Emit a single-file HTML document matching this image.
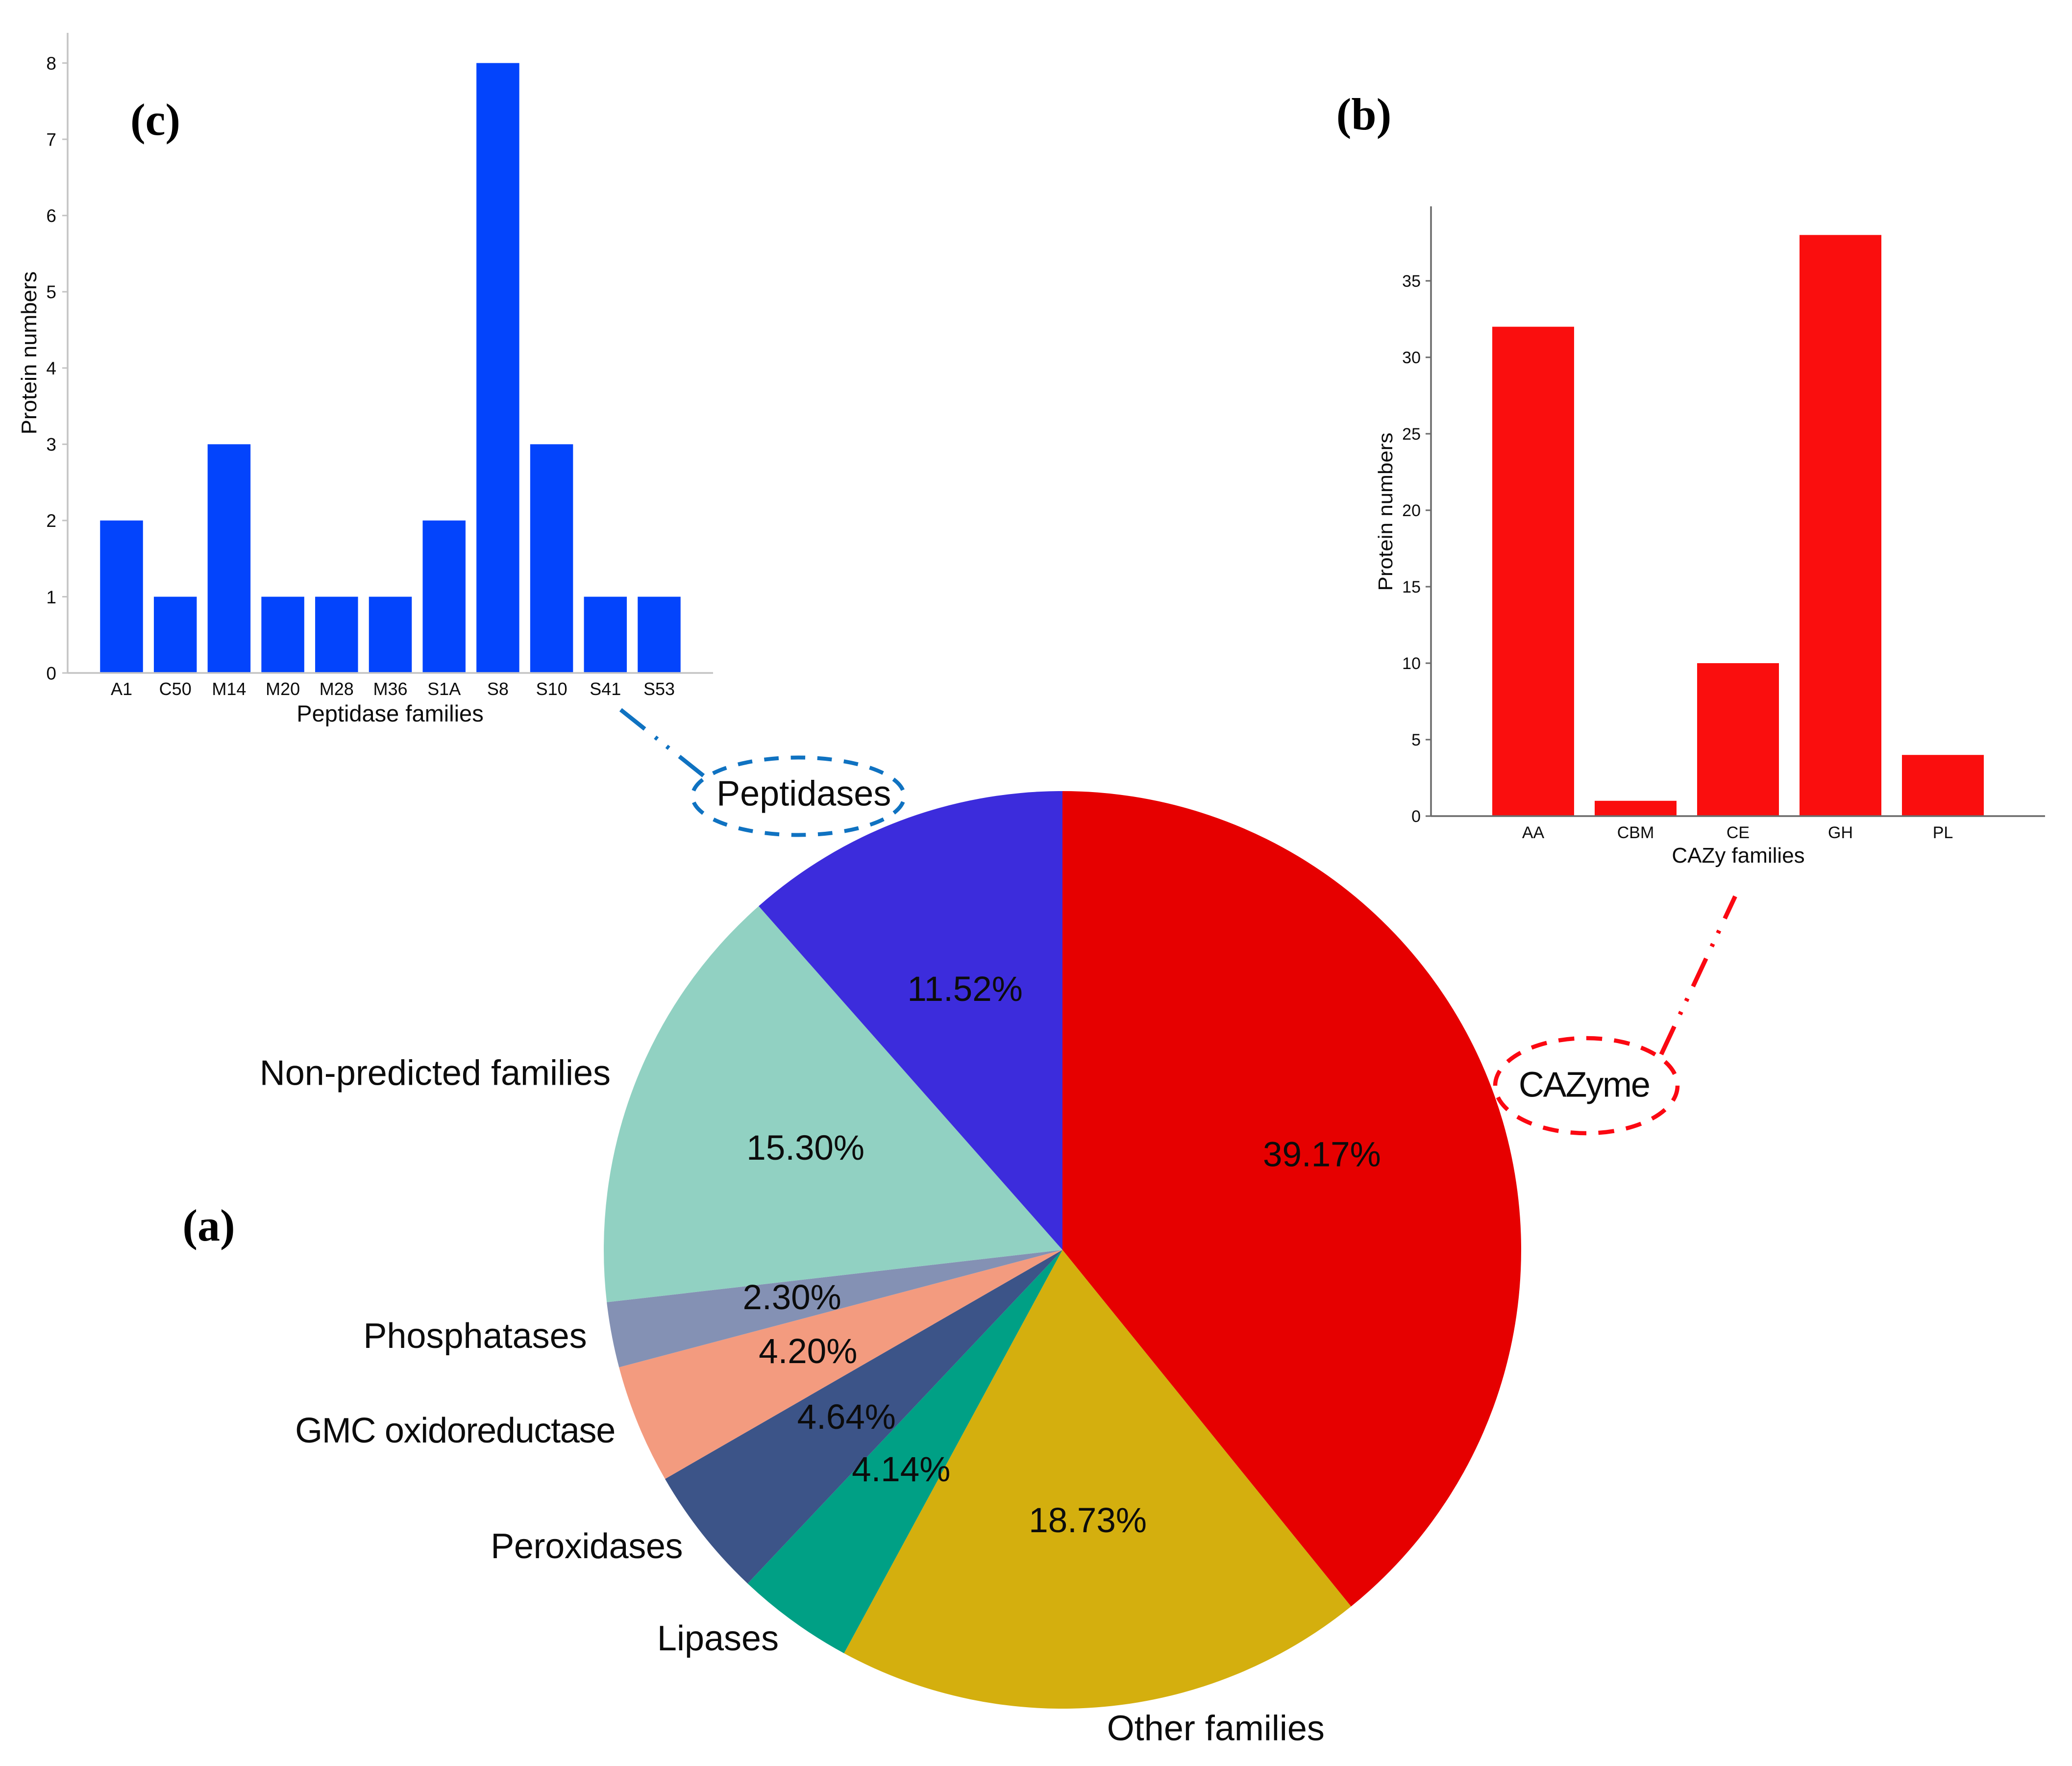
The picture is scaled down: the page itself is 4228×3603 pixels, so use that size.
<!DOCTYPE html>
<html lang="en">
<head>
<meta charset="utf-8">
<title>Protein family distribution</title>
<style>
html,body{margin:0;padding:0;background:#fff;width:4228px;height:3603px;overflow:hidden}
svg{display:block}
text{font-family:"Liberation Sans",sans-serif;fill:#0c0c0c}
.panel{font-family:"Liberation Serif",serif;font-weight:bold;fill:#000;font-size:92px}
</style>
</head>
<body>
<svg id="figure" width="4228" height="3603" viewBox="0 0 4228 3603" xmlns="http://www.w3.org/2000/svg">
  <rect x="0" y="0" width="4228" height="3603" fill="#ffffff"/>
  <g id="pie"></g>
  <g id="chartC"></g>
  <g id="chartB"></g>

  <text class="panel" x="426" y="2531" text-anchor="middle">(a)</text>
  <text class="panel" x="2783" y="264" text-anchor="middle">(b)</text>
  <text class="panel" x="317" y="275" text-anchor="middle">(c)</text>

  <ellipse cx="1629" cy="1624.5" rx="216" ry="79" fill="none" stroke="#0f72c1" stroke-width="8" pathLength="990" stroke-dasharray="30 25" stroke-dashoffset="-12"/>
  <line x1="1266.5" y1="1448" x2="1436" y2="1583" stroke="#0f72c1" stroke-width="8.5" stroke-dasharray="63 27 6 24 6 27"/>
  <ellipse cx="3237" cy="2215" rx="186" ry="97" fill="none" stroke="#fb0812" stroke-width="8.5" pathLength="928" stroke-dasharray="33 25"/>
  <line x1="3540.7" y1="1828.7" x2="3389.6" y2="2151.6" stroke="#fb0812" stroke-width="9" stroke-dasharray="63 27 6 24 6 27" stroke-dashoffset="13"/>
</svg>
<script>
// Pie data
const pieFamilies = ["CAZyme", "Other families", "Lipases", "Peroxidases", "GMC oxidoreductase", "Phosphatases", "Non-predicted families", "Peptidases"];
const piePercents = [39.17, 18.73, 4.14, 4.64, 4.20, 2.30, 15.30, 11.52];
const pieColors = ["#e60000", "#d4af0e", "#00a085", "#3c5488", "#f39b7f", "#8491b4", "#91d1c2", "#3c2cdc"];

// Peptidase bar chart data
const peptidaseFamilies = ["A1", "C50", "M14", "M20", "M28", "M36", "S1A", "S8", "S10", "S41", "S53"];
const peptidaseCounts = [2, 1, 3, 1, 1, 1, 2, 8, 3, 1, 1];
const peptidaseTicks = [0, 1, 2, 3, 4, 5, 6, 7, 8];

// CAZy bar chart data
const cazyFamilies = ["AA", "CBM", "CE", "GH", "PL"];
const cazyCounts = [32, 1, 10, 38, 4];
const cazyTicks = [0, 5, 10, 15, 20, 25, 30, 35];

const NS = "http://www.w3.org/2000/svg";
function mk(parent, tag, props, txt) {
  const el = document.createElementNS(NS, tag);
  for (const k in props) el.setAttribute(k, props[k]);
  if (txt !== undefined) el.textContent = txt;
  parent.appendChild(el);
  return el;
}

// ---------- Pie ----------
(function () {
  const g = document.getElementById("pie");
  const cx = 2168, cy = 2550, R = 936;
  const total = piePercents.reduce(function (a, b) { return a + b; }, 0);
  const pt = function (deg, r) {
    const a = deg * Math.PI / 180;
    return [cx + r * Math.sin(a), cy - r * Math.cos(a)];
  };
  let run = 0;
  piePercents.forEach(function (v, i) {
    const a0 = run / total * 360;
    run += v;
    const a1 = run / total * 360;
    const p0 = pt(a0, R), p1 = pt(a1, R);
    const large = a1 - a0 > 180 ? 1 : 0;
    const slice = mk(g, "path", {
      d: "M" + cx + " " + cy + "L" + p0[0] + " " + p0[1] + "A" + R + " " + R + " 0 " + large + " 1 " + p1[0] + " " + p1[1] + "Z",
      fill: pieColors[i]
    });
    
    
  });
  run = 0;
  piePercents.forEach(function (v, i) {
    const mid = (run + v / 2) / total * 360;
    run += v;
    const inner = pt(mid, R * 0.6);
    const pct = mk(g, "text", { x: inner[0], y: inner[1] + 17, "text-anchor": "middle", "font-size": 71 }, v.toFixed(2) + "%");
    
    
    const outer = pt(mid, R * 1.055);
    const name = mk(g, "text", { x: outer[0], y: outer[1] + 17, "text-anchor": mid < 180 ? "start" : "end", "font-size": 72 }, pieFamilies[i]);
    
    
    if (pieFamilies[i] === "GMC oxidoreductase") name.style.letterSpacing = "-1.3px";
    if (pieFamilies[i] === "CAZyme") name.style.letterSpacing = "-2.2px";
    if (pieFamilies[i] === "Peroxidases") name.style.letterSpacing = "-0.4px";
  });
})();

// ---------- Bar charts ----------
function drawBars(g, cfg, cats, vals, ticks) {
  const yOf = function (v) { return cfg.y0 - v * cfg.unit; };
  const xOf = function (i) { return cfg.x0 + i * cfg.step; };

  vals.forEach(function (v, i) {
    const bar = mk(g, "rect", { x: xOf(i) - cfg.barW / 2, y: yOf(v), width: cfg.barW, height: cfg.y0 - yOf(v), fill: cfg.barColor });
    
    
  });

  const yAxis = mk(g, "line", { x1: cfg.axisX, y1: cfg.axisTop, x2: cfg.axisX, y2: cfg.y0, stroke: cfg.axisColor, "stroke-width": 3.5 });
  
  
  const xAxis = mk(g, "line", { x1: cfg.axisX, y1: cfg.y0, x2: cfg.axisRight, y2: cfg.y0, stroke: cfg.axisColor, "stroke-width": 3.5 });
  
  

  ticks.forEach(function (t) {
    const tick = mk(g, "line", { x1: cfg.axisX - 11, y1: yOf(t), x2: cfg.axisX, y2: yOf(t), stroke: cfg.axisColor, "stroke-width": 3 });
    
    
    const lab = mk(g, "text", { x: cfg.axisX - cfg.yLabelGap, y: yOf(t) + cfg.yTickFont * 0.36, "text-anchor": "end", "font-size": cfg.yTickFont }, String(t));
    
    
  });

  cats.forEach(function (c, i) {
    const lab = mk(g, "text", { x: xOf(i), y: cfg.xTickBase, "text-anchor": "middle", "font-size": cfg.xTickFont }, c);
    
    
  });

  const xt = mk(g, "text", { x: cfg.xTitleX, y: cfg.xTitleBase, "text-anchor": "middle", "font-size": cfg.xTitleFont }, cfg.xTitle);
  
  

  const yt = mk(g, "text", {
    transform: "translate(" + cfg.yTitleX + " " + cfg.yTitleY + ") rotate(-90)",
    "text-anchor": "middle", "font-size": cfg.yTitleFont,
    textLength: cfg.yTitleLen, lengthAdjust: "spacingAndGlyphs"
  }, "Protein numbers");
  
  
}

drawBars(document.getElementById("chartC"), {
  x0: 248, step: 109.7, barW: 87.5, y0: 1373, unit: 155.55,
  axisX: 138, axisTop: 67, axisRight: 1455, axisColor: "#c4c4c4", barColor: "#0344fc",
  yLabelGap: 23, yTickFont: 37, xTickFont: 36, xTickBase: 1418,
  xTitle: "Peptidase families", xTitleX: 796, xTitleBase: 1472, xTitleFont: 47,
  yTitleX: 74, yTitleY: 720, yTitleFont: 44, yTitleLen: 333
}, peptidaseFamilies, peptidaseCounts, peptidaseTicks);

drawBars(document.getElementById("chartB"), {
  x0: 3128.5, step: 209, barW: 167, y0: 1665, unit: 31.2,
  axisX: 2920, axisTop: 421, axisRight: 4173, axisColor: "#6a6a6a", barColor: "#fa0e0e",
  yLabelGap: 21, yTickFont: 34, xTickFont: 34, xTickBase: 1710,
  xTitle: "CAZy families", xTitleX: 3547, xTitleBase: 1760, xTitleFont: 44,
  yTitleX: 2841, yTitleY: 1044, yTitleFont: 41, yTitleLen: 323
}, cazyFamilies, cazyCounts, cazyTicks);
</script>
</body>
</html>
